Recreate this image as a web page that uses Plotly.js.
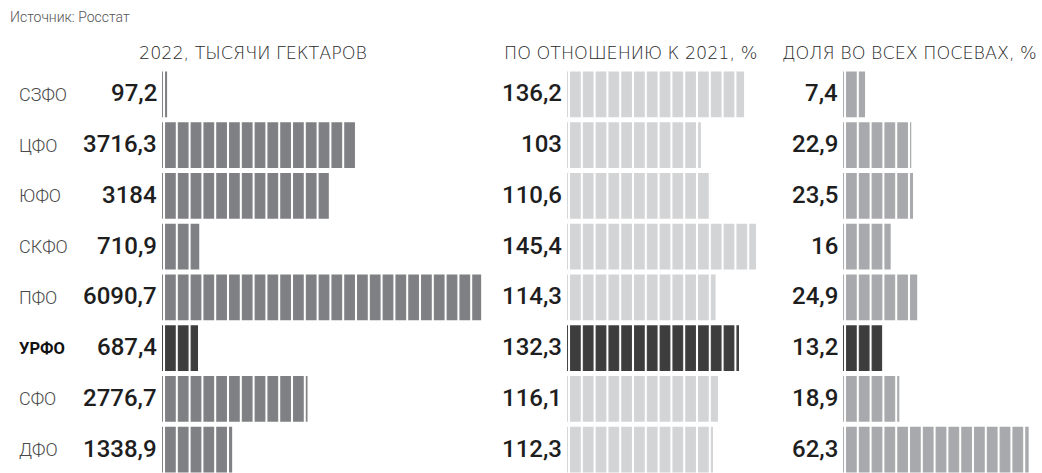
<!DOCTYPE html>
<html>
<head>
<meta charset="utf-8">
<script src="https://cdn.plot.ly/plotly-3.0.1.min.js"></script>
<style>
  html, body { margin: 0; padding: 0; background: #ffffff; }
  #chart { width: 1042px; height: 473px; }
</style>
</head>
<body>
<div id="chart"></div>
<script>
// ---- data ----
const regions = ['СЗФО', 'ЦФО', 'ЮФО', 'СКФО', 'ПФО', 'УРФО', 'СФО', 'ДФО'];
const area2022 = [97.2, 3716.3, 3184, 710.9, 6090.7, 687.4, 2776.7, 1338.9];
const vs2021 = [136.2, 103, 110.6, 145.4, 114.3, 132.3, 116.1, 112.3];
const shareAll = [7.4, 22.9, 23.5, 16, 24.9, 13.2, 18.9, 62.3];
const panelTitles = ['2022, ТЫСЯЧИ ГЕКТАРОВ', 'ПО ОТНОШЕНИЮ К 2021, %', 'ДОЛЯ ВО ВСЕХ ПОСЕВАХ, %'];
const sourceText = 'Источник: Росстат';
const highlight = 'УРФО';

// ---- styling ----
const W = 1042, H = 473;
const HL = '#3d3d3d';
const fmt = v => String(v).replace('.', ',');

const panels = [
  {vals: area2022, color: '#7f8083', start: 162, end: 500, pxPer: 0.0524, ax: 'x', title: panelTitles[0], tx: 253},
  {vals: vs2021, color: '#d3d4d6', start: 567, end: 780, pxPer: 1.30, ax: 'x2', title: panelTitles[1], tx: 630},
  {vals: shareAll, color: '#a8a9ac', start: 843, end: 1042, pxPer: 2.98, ax: 'x3', title: panelTitles[2], tx: 909}
];
const lead = 10.8; // px before bar start so stripes align with bar start

const traces = [];
const annotations = [];
const layout = {
  width: W, height: H,
  margin: {l: 0, r: 0, t: 69, b: 0, pad: 0},
  paper_bgcolor: '#ffffff', plot_bgcolor: 'rgba(0,0,0,0)',
  showlegend: false,
  bargap: 0.1,
  font: {family: 'Roboto, sans-serif', color: '#333'},
  yaxis: {
    type: 'category', categoryarray: regions, categoryorder: 'array',
    range: [7.46, -0.5], showticklabels: false, showgrid: false, zeroline: false,
    showline: false, ticks: '', fixedrange: true
  }
};

panels.forEach((p, i) => {
  const d0 = (p.start - lead) / W;
  const d1 = p.end / W;
  const rMin = -lead / p.pxPer;
  const rMax = (p.end - p.start) / p.pxPer;
  const key = i === 0 ? 'xaxis' : 'xaxis' + (i + 1);
  layout[key] = {
    domain: [d0, Math.min(d1, 1)], range: [rMin, rMax], anchor: 'y',
    showticklabels: false, showgrid: false, zeroline: false, showline: false, ticks: '', fixedrange: true
  };
  const cols = regions.map(r => r === highlight ? HL : p.color);
  traces.push({
    type: 'bar', orientation: 'h',
    x: p.vals, y: regions,
    xaxis: p.ax, yaxis: 'y',
    marker: {
      color: cols,
      line: {width: 0},
      pattern: {shape: '|', fillmode: 'replace', size: 12.8, solidity: 0.84}
    },
    hoverinfo: 'skip'
  });
  // value labels
  p.vals.forEach((v, k) => {
    annotations.push({
      xref: p.ax, yref: 'y', x: 0, y: regions[k],
      text: fmt(v), showarrow: false, xanchor: 'right', yanchor: 'middle',
      xshift: -3, yshift: 1,
      font: {family: 'Roboto, sans-serif', size: 24, weight: 500, color: '#1e1e1e'}
    });
  });
  // panel title
  annotations.push({
    xref: 'paper', yref: 'paper', x: p.tx / W, y: 1, yshift: 4,
    text: p.title, showarrow: false, xanchor: 'center', yanchor: 'bottom',
    font: {family: '"DejaVu Sans", sans-serif', size: 17.5, weight: 200, color: '#2a2a2a'}
  });
});

// region labels
regions.forEach(r => {
  const hl = r === highlight;
  annotations.push({
    xref: 'paper', yref: 'y', x: 17 / W, y: r,
    text: hl ? '<b>' + r + '</b>' : r, showarrow: false, xanchor: 'left', yanchor: 'middle',
    font: {family: 'Roboto, sans-serif', size: hl ? 16.5 : 18, weight: hl ? 700 : 300, color: hl ? '#111' : '#4a4a4a'}
  });
});

// source line
annotations.push({
  xref: 'paper', yref: 'paper', x: 8 / W, y: 1, yshift: 42,
  text: sourceText, showarrow: false, xanchor: 'left', yanchor: 'bottom',
  font: {family: 'Roboto, sans-serif', size: 14, weight: 300, color: '#555'}
});

layout.annotations = annotations;

Plotly.newPlot('chart', traces, layout, {staticPlot: true, displayModeBar: false});
</script>
</body>
</html>
